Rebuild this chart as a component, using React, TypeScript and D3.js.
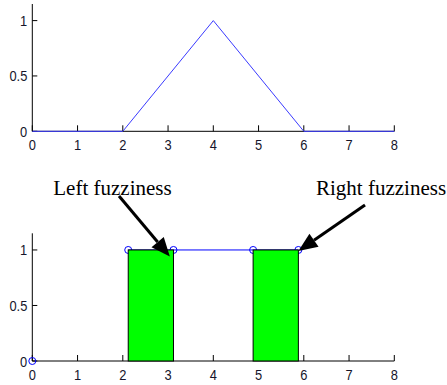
import React from "react";
import * as d3 from "d3";

const xTicks = [0, 1, 2, 3, 4, 5, 6, 7, 8];
const yTicks = [0, 0.5, 1];
const yTickLabels = ["0", "0.5", "1"];

const triX = [0, 2, 4, 6, 8];
const triY = [0, 0, 1, 0, 0];

const ptX = [0, 2.12, 3.12, 4.88, 5.88];
const ptY = [0, 1, 1, 1, 1];

const barStart = [2.12, 4.88];
const barEnd = [3.12, 5.88];
const barHeight = [1, 1];

const annoText = ["Left fuzziness", "Right fuzziness"];
const annoTipX = [3.04, 5.88];
const annoTipY = [0.94, 0.99];

const W = 447;
const H = 385;

const x = d3.scaleLinear().domain([0, 8]).range([32.3, 394.3]);
const yTop = d3.scaleLinear().domain([0, 1.15]).range([131.3, 4]);
const yBot = d3.scaleLinear().domain([0, 1.15]).range([361, 233.3]);

const tickFont = "'Liberation Sans', Arial, sans-serif";

function Label({ px, py, anchor, children }: { px: number; py: number; anchor: string; children: React.ReactNode }) {
  return (
    <text
      transform={`translate(${px},${py}) scale(0.86,1)`}
      textAnchor={anchor as any}
      fontSize={15}
      fontFamily={tickFont}
      fill="#15152a"
    >
      {children}
    </text>
  );
}

function Axes({ y }: { y: d3.ScaleLinear<number, number> }) {
  const y0 = y(0);
  const yMax = y(1.15);
  return (
    <g>
      <line x1={x(0)} y1={y0} x2={x(8)} y2={y0} stroke="#000" strokeWidth={1} />
      <line x1={x(0)} y1={y0} x2={x(0)} y2={yMax} stroke="#000" strokeWidth={1} />
      {xTicks.map((t) => (
        <g key={"x" + t}>
          <line x1={x(t)} x2={x(t)} y1={y0} y2={y0 - 6} stroke="#000" />
          <Label px={x(t)} py={y0 + 18.5} anchor="middle">{t}</Label>
        </g>
      ))}
      {yTicks.map((t, i) => (
        <g key={"y" + t}>
          <line x1={x(0)} x2={x(0) + 5} y1={y(t)} y2={y(t)} stroke="#000" />
          <Label px={x(0) - 5} py={y(t) + 5.5} anchor="end">{yTickLabels[i]}</Label>
        </g>
      ))}
    </g>
  );
}

function Arrow({ x1, y1, x2, y2 }: { x1: number; y1: number; x2: number; y2: number }) {
  const ang = Math.atan2(y2 - y1, x2 - x1);
  const len = 19;
  const half = 8;
  const bx = x2 - len * Math.cos(ang);
  const by = y2 - len * Math.sin(ang);
  const px = -Math.sin(ang) * half;
  const py = Math.cos(ang) * half;
  return (
    <g>
      <line x1={x1} y1={y1} x2={bx} y2={by} stroke="#000" strokeWidth={3} />
      <polygon points={`${x2},${y2} ${bx + px},${by + py} ${bx - px},${by - py}`} fill="#000" />
    </g>
  );
}

export default function App() {
  const triLine = d3
    .line<number>()
    .x((_, i) => x(triX[i]))
    .y((d) => yTop(d));
  const flatLine = d3
    .line<number>()
    .x((_, i) => x(ptX.slice(1)[i]))
    .y((d) => yBot(d));

  const textPos = [
    { tx: 53.3, ty: 195, sx: 119, sy: 196 },
    { tx: 316, ty: 195, sx: 365, sy: 205 },
  ];

  return (
    <svg width={W} height={H} style={{ position: "absolute", left: 0, top: 0, background: "#fff" }}>
      <Axes y={yTop} />
      <path d={triLine(triY) || ""} fill="none" stroke="#3a3aff" strokeWidth={1} />

      <Axes y={yBot} />
      <path d={flatLine(ptY.slice(1)) || ""} fill="none" stroke="#0000ff" strokeWidth={1} />
      {ptX.map((px, i) => (
        <circle key={"c" + i} cx={x(px)} cy={yBot(ptY[i])} r={3.5} fill="none" stroke="#0000ff" strokeWidth={1} />
      ))}
      {barStart.map((b, i) => (
        <rect
          key={"b" + i}
          x={x(b)}
          y={yBot(barHeight[i])}
          width={x(barEnd[i]) - x(b)}
          height={yBot(0) - yBot(barHeight[i])}
          fill="#00ff00"
          stroke="#000"
          strokeWidth={1}
        />
      ))}
      {annoText.map((t, i) => (
        <g key={"a" + i}>
          <text x={textPos[i].tx} y={textPos[i].ty} fontSize={21} fontFamily="'Liberation Serif', 'Times New Roman', serif" fill="#000">
            {t}
          </text>
          <Arrow x1={textPos[i].sx} y1={textPos[i].sy} x2={x(annoTipX[i])} y2={yBot(annoTipY[i])} />
        </g>
      ))}
    </svg>
  );
}
